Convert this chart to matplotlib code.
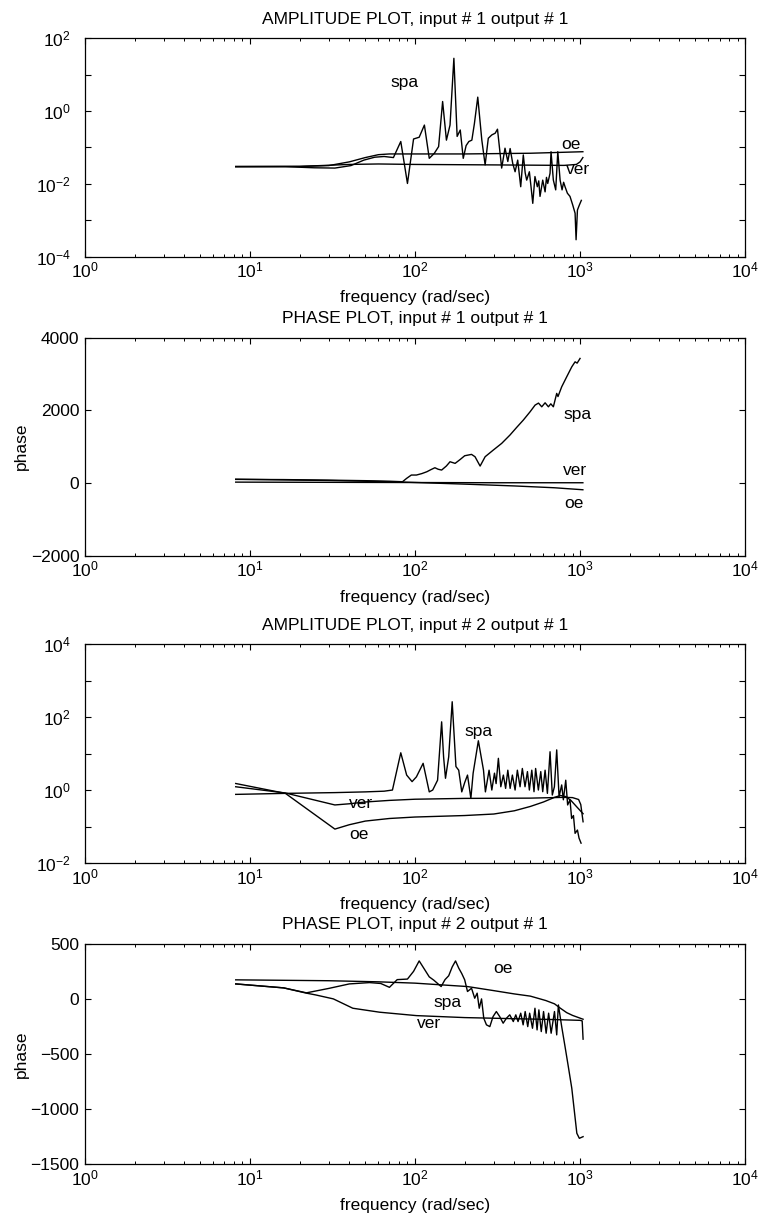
import numpy as np
import matplotlib
matplotlib.use("Agg")
import matplotlib.pyplot as plt
from matplotlib.ticker import FixedLocator, FuncFormatter, NullLocator, LogLocator

plt.rcParams['font.family'] = ['Liberation Sans', 'DejaVu Sans']
plt.rcParams['mathtext.fontset'] = 'custom'
plt.rcParams['mathtext.rm'] = 'Liberation Sans'

# ---------------- data: input 1 amplitude ----------------
amp1_spa_f = [8.2, 16.4, 24.5, 32.7, 40.9, 49, 57, 65, 74, 82, 90, 98, 106, 114, 122, 131, 139, 147,
              155, 163, 172, 180, 188, 196, 204, 212, 221, 229, 240, 254, 266, 278, 292, 306, 316,
              335, 351, 365, 377, 391, 404, 419, 437, 453, 465, 475, 493, 505, 517, 533, 551, 562,
              572, 594, 614, 626, 637, 658, 667, 689, 712, 733, 757, 778, 795, 811, 838, 869, 903,
              933, 946, 964, 990, 1018]
amp1_spa_v = [0.0295, 0.0295, 0.0275, 0.027, 0.0316, 0.0447, 0.0537, 0.0562, 0.0525, 0.145, 0.0102,
              0.17, 0.19, 0.41, 0.050, 0.069, 0.105, 1.82, 0.158, 0.41, 28, 0.20, 0.30, 0.050, 0.112,
              0.145, 0.158, 0.45, 2.4, 0.158, 0.033, 0.178, 0.22, 0.245, 0.316, 0.027, 0.095, 0.041,
              0.093, 0.036, 0.0214, 0.0447, 0.0083, 0.062, 0.02, 0.0126, 0.0214, 0.008, 0.0029, 0.0158,
              0.0083, 0.012, 0.0045, 0.0126, 0.006, 0.015, 0.0102, 0.0195, 0.076, 0.0126, 0.0068,
              0.076, 0.0126, 0.0068, 0.011, 0.0083, 0.0055, 0.0045, 0.0026, 0.00155, 0.00029, 0.0019,
              0.0026, 0.0035]
amp1_oe_f = [8.2, 20, 30, 40, 50, 60, 70, 100, 200, 500, 1040]
amp1_oe_v = [0.030, 0.030, 0.0316, 0.040, 0.0525, 0.063, 0.066, 0.066, 0.066, 0.069, 0.076]
amp1_ver_f = [8.2, 20, 40, 60, 100, 300, 800, 950, 1000, 1040]
amp1_ver_v = [0.0295, 0.030, 0.034, 0.035, 0.034, 0.033, 0.032, 0.034, 0.040, 0.0525]

# ---------------- data: input 1 phase ----------------
ph1_spa_f = [8.2, 16, 30, 50, 70, 84, 89, 95, 102, 110, 118, 125, 132, 138, 145, 155, 163, 175, 188,
             200, 220, 231, 248, 266, 298, 335, 376, 413, 453, 498, 534, 560, 586, 614, 643, 665, 689,
             722, 735, 774, 830, 891, 933, 960, 1000]
ph1_spa_v = [100, 95, 80, 65, 50, 36, 129, 220, 220, 260, 311, 370, 421, 380, 357, 470, 586, 541, 650,
             751, 788, 724, 467, 724, 907, 1091, 1320, 1531, 1732, 1961, 2145, 2200, 2098, 2208, 2098,
             2180, 2098, 2467, 2380, 2648, 2923, 3198, 3336, 3300, 3429]
ph1_oe_f = [8.2, 30, 80, 200, 400, 700, 1040]
ph1_oe_v = [105, 70, 30, -30, -80, -130, -185]
ph1_ver_f = [8.2, 80, 300, 1040]
ph1_ver_v = [25, 15, 8, 8]

# ---------------- data: input 2 amplitude ----------------
amp2_spa_f = [8.2, 16.4, 32.7, 50, 65, 73, 82, 89, 96, 102, 112, 122, 128, 137, 145, 149, 153, 160,
              168, 177, 184, 192, 200, 208, 218, 225, 242, 260, 267, 281, 292, 303, 310, 320, 331, 343,
              354, 365, 377, 389, 404, 417, 433, 447, 464, 480, 493, 510, 526, 538, 559, 578, 594, 614,
              634, 658, 679, 699, 722, 746, 774, 792, 819, 841, 869, 889, 912, 933, 964, 986, 1014]
amp2_spa_v = [0.76, 0.81, 0.85, 0.89, 0.93, 1.0, 10.5, 2.57, 1.7, 2.3, 5.4, 0.89, 1.0, 1.86, 74, 8.1,
              2.1, 8.1, 263, 4.4, 3.5, 0.89, 1.6, 2.57, 0.59, 2.9, 22.4, 3.5, 0.89, 3.5, 1.0, 2.9, 1.5,
              7.4, 1.23, 2.57, 1.11, 3.5, 1.11, 2.57, 1.0, 3.5, 1.23, 3.9, 1.23, 3.2, 1.0, 3.5, 0.9, 3.9,
              1.0, 3.2, 0.9, 3.5, 0.81, 11.2, 0.73, 1.23, 12.6, 0.66, 1.38, 0.54, 1.86, 0.39, 0.54,
              0.166, 0.2, 0.065, 0.08, 0.048, 0.035]
amp2_oe_f = [8.2, 16.4, 32.7, 40, 50, 70, 100, 200, 300, 400, 500, 600, 700, 760, 820, 880, 950, 1043]
amp2_oe_v = [1.51, 0.81, 0.085, 0.112, 0.141, 0.166, 0.182, 0.20, 0.22, 0.27, 0.355, 0.47, 0.63, 0.71,
             0.66, 0.52, 0.355, 0.224]
amp2_ver_f = [8.2, 16.4, 32.7, 40, 50, 70, 100, 200, 500, 800, 900, 980, 1010, 1043]
amp2_ver_v = [1.23, 0.83, 0.39, 0.42, 0.47, 0.52, 0.56, 0.59, 0.60, 0.63, 0.62, 0.55, 0.40, 0.135]

# ---------------- data: input 2 phase ----------------
ph2_spa_f = [8.2, 16, 22, 30, 40, 53, 62, 70, 78, 90, 98, 106, 114, 122, 130, 144, 152, 160, 168, 176,
             184, 192, 200, 208, 220, 230, 238, 245, 253, 261, 271, 284, 297, 311, 326, 342, 358, 375,
             394, 408, 421, 437, 452, 465, 482, 495, 515, 533, 549, 563, 582, 601, 623, 645, 668, 700,
             722, 739, 774, 811, 849, 891, 956, 990, 1043]
ph2_spa_v = [136, 100, 55, 95, 136, 148, 140, 105, 175, 180, 250, 345, 270, 200, 170, 112, 175, 210,
             290, 345, 280, 230, 173, 67, 97, 6, 52, -85, 0, -176, -236, -252, -161, -115, -161, -221,
             -176, -145, -206, -145, -206, -130, -236, -115, -252, -130, -267, -85, -282, -100, -297,
             -115, -312, -130, -312, -115, -327, -55, -252, -434, -616, -812, -1221, -1267, -1252]
ph2_oe_f = [8.2, 30, 60, 100, 208, 300, 400, 500, 620, 700, 760, 830, 900, 1043]
ph2_oe_v = [173, 165, 155, 143, 112, 75, 45, 25, -15, -45, -85, -125, -150, -185]
ph2_ver_f = [8.2, 16, 22, 25, 32, 42, 61, 102, 200, 400, 700, 1000, 1030, 1043]
ph2_ver_v = [136, 100, 52, 36, 0, -85, -121, -152, -170, -180, -188, -195, -200, -366]

titles = ["AMPLITUDE PLOT, input # 1 output # 1", "PHASE PLOT, input # 1 output # 1",
          "AMPLITUDE PLOT, input # 2 output # 1", "PHASE PLOT, input # 2 output # 1"]
xlabel_text = "frequency (rad/sec)"

FS = 12.5
LW = 1.0

fig = plt.figure(figsize=(7.58, 12.16), dpi=100)
positions = [[0.112, 0.789, 0.871, 0.1796],
             [0.112, 0.543, 0.871, 0.1793],
             [0.112, 0.2903, 0.871, 0.180],
             [0.112, 0.0428, 0.871, 0.181]]
axes = [fig.add_axes(p) for p in positions]

def logfmt(v, pos):
    e = int(round(np.log10(v)))
    return r'$\mathdefault{10^{%d}}$' % e

def evenlogfmt(v, pos):
    e = int(round(np.log10(v)))
    if e % 2 != 0:
        return ''
    return r'$\mathdefault{10^{%d}}$' % e

def style(ax, title):
    ax.set_xscale('log')
    ax.set_xlim(1, 1e4)
    ax.xaxis.set_major_locator(FixedLocator([1, 10, 100, 1000, 10000]))
    ax.xaxis.set_minor_locator(LogLocator(base=10, subs=np.arange(2, 10), numticks=20))
    ax.xaxis.set_major_formatter(FuncFormatter(logfmt))
    ax.tick_params(which='both', direction='in', top=True, right=True, labelsize=FS)
    ax.tick_params(which='major', length=4.3, width=0.8)
    ax.tick_params(which='minor', length=2.2, width=0.7)
    ax.tick_params(axis='x', which='major', pad=3)
    ax.set_title(title, fontsize=FS, pad=10.5)
    ax.set_xlabel(xlabel_text, fontsize=FS, labelpad=7)
    for s in ax.spines.values():
        s.set_linewidth(0.9)

# plot 1
ax = axes[0]
ax.plot(amp1_spa_f, amp1_spa_v, color='black', lw=LW)
ax.plot(amp1_oe_f, amp1_oe_v, color='black', lw=LW)
ax.plot(amp1_ver_f, amp1_ver_v, color='black', lw=LW)
style(ax, titles[0])
ax.set_yscale('log')
ax.set_ylim(1e-4, 1e2)
ax.yaxis.set_major_locator(FixedLocator([1e-4, 1e-3, 1e-2, 1e-1, 1e0, 1e1, 1e2]))
ax.yaxis.set_minor_locator(NullLocator())
ax.yaxis.set_major_formatter(FuncFormatter(evenlogfmt))
ax.tick_params(axis='y', pad=10)
ax.text(86, 5.9, 'spa', fontsize=FS, ha='center', va='center')
ax.text(881, 0.117, 'oe', fontsize=FS, ha='center', va='center')
ax.text(972, 0.024, 'ver', fontsize=FS, ha='center', va='center')

# plot 2
ax = axes[1]
ax.plot(ph1_spa_f, ph1_spa_v, color='black', lw=LW)
ax.plot(ph1_oe_f, ph1_oe_v, color='black', lw=LW)
ax.plot(ph1_ver_f, ph1_ver_v, color='black', lw=LW)
style(ax, titles[1])
ax.set_ylim(-2000, 4000)
ax.yaxis.set_major_locator(FixedLocator([-2000, 0, 2000, 4000]))
ax.tick_params(axis='y', pad=4)
ax.set_ylabel('phase', fontsize=FS)
ax.yaxis.set_label_coords(-0.085, 0.5)
ax.text(972, 1897, 'spa', fontsize=FS, ha='center', va='center')
ax.text(933, 357, 'ver', fontsize=FS, ha='center', va='center')
ax.text(917, -550, 'oe', fontsize=FS, ha='center', va='center')

# plot 3
ax = axes[2]
ax.plot(amp2_spa_f, amp2_spa_v, color='black', lw=LW)
ax.plot(amp2_oe_f, amp2_oe_v, color='black', lw=LW)
ax.plot(amp2_ver_f, amp2_ver_v, color='black', lw=LW)
style(ax, titles[2])
ax.set_yscale('log')
ax.set_ylim(1e-2, 1e4)
ax.yaxis.set_major_locator(FixedLocator([1e-2, 1e-1, 1e0, 1e1, 1e2, 1e3, 1e4]))
ax.yaxis.set_minor_locator(NullLocator())
ax.yaxis.set_major_formatter(FuncFormatter(evenlogfmt))
ax.tick_params(axis='y', pad=10)
ax.text(244, 41, 'spa', fontsize=FS, ha='center', va='center')
ax.text(47, 0.43, 'ver', fontsize=FS, ha='center', va='center')
ax.text(46, 0.061, 'oe', fontsize=FS, ha='center', va='center')

# plot 4
ax = axes[3]
ax.plot(ph2_spa_f, ph2_spa_v, color='black', lw=LW)
ax.plot(ph2_oe_f, ph2_oe_v, color='black', lw=LW)
ax.plot(ph2_ver_f, ph2_ver_v, color='black', lw=LW)
style(ax, titles[3])
ax.set_ylim(-1500, 500)
ax.yaxis.set_major_locator(FixedLocator([-1500, -1000, -500, 0, 500]))
ax.tick_params(axis='y', pad=4)
ax.set_ylabel('phase', fontsize=FS)
ax.yaxis.set_label_coords(-0.085, 0.5)
ax.text(340, 273, 'oe', fontsize=FS, ha='center', va='center')
ax.text(157, -30, 'spa', fontsize=FS, ha='center', va='center')
ax.text(122, -227, 'ver', fontsize=FS, ha='center', va='center')

fig.savefig('out.png', dpi=100)
